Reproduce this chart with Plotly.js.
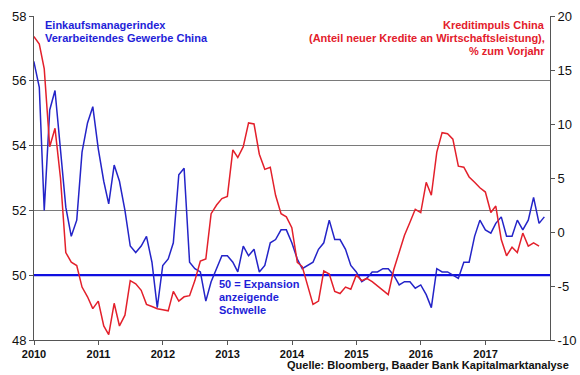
<!DOCTYPE html>
<html>
<head>
<meta charset="utf-8">
<script src="https://cdn.plot.ly/plotly-3.0.1.min.js"></script>
<style>
html,body{margin:0;padding:0;background:#fff;}
#chart{width:580px;height:375px;}
</style>
</head>
<body>
<div id="chart"></div>
<script>
// ---- DATA (monthly, month-end; first month Dec 2009) ----
const firstYear = 2009;
const firstMonth = 12;

// Einkaufsmanagerindex Verarbeitendes Gewerbe China (left axis), Dec 2009 - Nov 2017
const pmi = [
  56.6,
  55.8, 52.0, 55.1, 55.7, 53.9, 52.1, 51.2, 51.7, 53.8, 54.7, 55.2, 53.9,
  52.9, 52.2, 53.4, 52.9, 52.0, 50.9, 50.7, 50.9, 51.2, 50.4, 49.0, 50.3,
  50.5, 51.0, 53.1, 53.3, 50.4, 50.2, 50.1, 49.2, 49.8, 50.2, 50.6, 50.6,
  50.4, 50.1, 50.9, 50.6, 50.8, 50.1, 50.3, 51.0, 51.1, 51.4, 51.4, 51.0,
  50.5, 50.2, 50.3, 50.4, 50.8, 51.0, 51.7, 51.1, 51.1, 50.8, 50.3, 50.1,
  49.8, 49.9, 50.1, 50.1, 50.2, 50.2, 50.0, 49.7, 49.8, 49.8, 49.6, 49.7,
  49.4, 49.0, 50.2, 50.1, 50.1, 50.0, 49.9, 50.4, 50.4, 51.2, 51.7, 51.4,
  51.3, 51.6, 51.8, 51.2, 51.2, 51.7, 51.4, 51.7, 52.4, 51.6, 51.8
];

// Kreditimpuls China, % zum Vorjahr (right axis), Dec 2009 - Oct 2017
const credit = [
  18.1,
  17.4, 15.1, 7.9, 9.6, 5.0, -1.9, -2.8, -3.1, -5.1, -6.0, -7.1, -6.4,
  -8.7, -9.5, -6.6, -8.7, -7.7, -4.5, -4.8, -5.4, -6.7, -6.9, -7.1, -7.2,
  -7.3, -5.5, -6.4, -6.0, -5.9, -4.5, -2.7, -2.5, 1.7, 2.5, 3.1, 3.3,
  7.6, 6.9, 7.9, 10.1, 10.0, 7.2, 5.8, 6.0, 3.4, 1.7, 1.4, 0.4,
  -2.8, -3.2, -5.0, -6.7, -6.4, -3.6, -3.9, -5.5, -5.7, -5.1, -5.3, -4.0,
  -4.5, -4.3, -4.6, -5.0, -5.4, -5.8, -3.5, -1.8, -0.3, 0.9, 2.1, 1.8,
  4.6, 3.4, 7.4, 9.2, 9.1, 8.6, 6.1, 6.0, 5.1, 4.6, 4.1, 3.7,
  1.8, 2.4, -0.7, -2.2, -1.4, -1.9, -0.1, -1.3, -1.0, -1.3
];

const threshold = 50;
const xRange = ['2010-01-01', '2018-01-01'];
const yearTicks = ['2010-01-01','2011-01-01','2012-01-01','2013-01-01','2014-01-01','2015-01-01','2016-01-01','2017-01-01'];
const yearLabels = ['2010','2011','2012','2013','2014','2015','2016','2017'];
const leftTicks = [48, 50, 52, 54, 56, 58];
const rightTicks = [-10, -5, 0, 5, 10, 15, 20];
const rightLabels = ['-10', '-5', '0', '5', '10', '15', '20'];

// month-end dates
function monthEnds(n) {
  const out = [];
  for (let i = 0; i < n; i++) {
    const total = (firstMonth - 1) + i;
    const y = firstYear + Math.floor(total / 12);
    const m = total % 12; // 0-based
    const last = new Date(Date.UTC(y, m + 1, 0)).getUTCDate();
    out.push(y + '-' + String(m + 1).padStart(2, '0') + '-' + String(last).padStart(2, '0'));
  }
  return out;
}
const pmiDates = monthEnds(pmi.length);
const creditDates = monthEnds(credit.length);

const BLUE = '#2424c8';
const BLUE_TXT = '#1e1ed8';
const RED = '#e3202b';
const FONT = 'Arial, "Liberation Sans", sans-serif';

const traces = [
  {x: xRange, y: [threshold, threshold], type: 'scatter', mode: 'lines',
   line: {color: '#1010e0', width: 2.2}, hoverinfo: 'skip', showlegend: false, yaxis: 'y'},
  {x: creditDates, y: credit, type: 'scatter', mode: 'lines', yaxis: 'y2',
   line: {color: RED, width: 1.5}, showlegend: false},
  {x: pmiDates, y: pmi, type: 'scatter', mode: 'lines', yaxis: 'y',
   line: {color: BLUE, width: 1.5}, showlegend: false}
];

const L = 34, R = 550, T = 16, B = 340;
function px(x) { return (x - L) / (R - L); }
function py(y) { return (B - y) / (B - T); }

function ann(text, x, y, anchor, color, size) {
  return {text: text, xref: 'paper', yref: 'paper', x: px(x), y: py(y),
    xanchor: anchor, yanchor: 'middle', showarrow: false,
    font: {family: FONT, size: size || 11, color: color, weight: 'bold'}};
}

const layout = {
  width: 580, height: 375,
  margin: {l: L, r: 580 - R, t: T, b: 375 - B, pad: 0},
  paper_bgcolor: '#ffffff', plot_bgcolor: '#ffffff',
  showlegend: false,
  font: {family: FONT, color: '#000'},
  xaxis: {
    type: 'date', range: xRange, tickmode: 'array', tickvals: yearTicks, ticktext: yearLabels,
    showgrid: false, zeroline: false, showline: true, linecolor: '#555', linewidth: 1,
    ticks: 'outside', ticklen: 4, tickcolor: '#555',
    tickfont: {family: FONT, size: 11, color: '#111', weight: 'bold'}
  },
  yaxis: {
    range: [48, 58], tickmode: 'array', tickvals: leftTicks,
    showgrid: true, gridcolor: '#7a7a7a', gridwidth: 1, zeroline: false,
    showline: true, linecolor: '#555', linewidth: 1,
    ticks: 'outside', ticklen: 4, tickcolor: '#555',
    tickfont: {family: FONT, size: 13, color: '#111'}
  },
  yaxis2: {
    range: [-10, 20], overlaying: 'y', side: 'right', tickmode: 'array',
    tickvals: rightTicks, ticktext: rightLabels,
    showgrid: false, zeroline: false, showline: true, linecolor: '#555', linewidth: 1,
    ticks: 'outside', ticklen: 4, tickcolor: '#555',
    tickfont: {family: FONT, size: 13, color: '#111'}
  },
  annotations: [
    ann('Einkaufsmanagerindex', 43, 25, 'left', BLUE_TXT),
    ann('Verarbeitendes Gewerbe China', 43, 38, 'left', BLUE_TXT),
    ann('Kreditimpuls China', 547, 25, 'right', RED),
    ann('(Anteil neuer Kredite an Wirtschaftsleistung),', 547, 38, 'right', RED),
    ann('% zum Vorjahr', 547, 51, 'right', RED),
    ann('50 = Expansion', 217, 284, 'left', BLUE_TXT),
    ann('anzeigende', 217, 297, 'left', BLUE_TXT),
    ann('Schwelle', 217, 310, 'left', BLUE_TXT),
    ann('Quelle: Bloomberg, Baader Bank Kapitalmarktanalyse', 571, 365, 'right', '#111')
  ]
};

Plotly.newPlot('chart', traces, layout, {staticPlot: true, displayModeBar: false});
</script>
</body>
</html>
